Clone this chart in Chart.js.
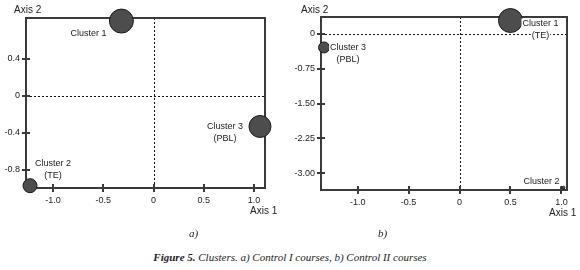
<!DOCTYPE html>
<html>
<head>
<meta charset="utf-8">
<script src="https://cdn.jsdelivr.net/npm/chart.js@4"></script>
<style>
  body { margin: 0; background: #fff; }
  #wrap { position: relative; width: 580px; height: 270px; overflow: hidden; font-family: "Liberation Sans", Arial, sans-serif; color: #222; }
  canvas { position: absolute; top: 0; }
  .t { position: absolute; font-size: 10px; line-height: 10px; white-space: nowrap; }
  .s { position: absolute; font-family: "Liberation Serif", "Times New Roman", serif; font-style: italic; font-size: 11px; line-height: 11px; white-space: nowrap; }
</style>
</head>
<body>
<div id="wrap">
  <canvas id="chartA" width="290" height="220" style="left:0"></canvas>
  <canvas id="chartB" width="290" height="220" style="left:290px"></canvas>
  <div class="t" style="left:14px;top:5px">Axis 2</div>
  <div class="t" style="left:250px;top:206px">Axis 1</div>
  <div class="t" style="left:301px;top:5px">Axis 2</div>
  <div class="t" style="left:549px;top:208px">Axis 1</div>
  <div class="s" style="left:189px;top:228px">a)</div>
  <div class="s" style="left:378px;top:228px">b)</div>
  <div class="s" style="left:0;width:580px;text-align:center;top:252px"><b>Figure 5.</b> Clusters. a) Control I courses, b) Control II courses</div>
</div>
<script>
// a) Control I courses
const namesA = ["Cluster 1", "Cluster 2", "Cluster 3"];
const subA = ["", "(TE)", "(PBL)"];
const axis1A = [-0.32, -1.23, 1.06];
const axis2A = [0.81, -0.97, -0.33];
const sizeA = [12, 7, 11];
const xTicksA = [-1.0, -0.5, 0, 0.5, 1.0];
const yTicksA = [0.4, 0, -0.4, -0.8];

// b) Control II courses
const namesB = ["Cluster 1", "Cluster 2", "Cluster 3"];
const subB = ["(TE)", "", "(PBL)"];
const axis1B = [0.5, 1.02, -1.33];
const axis2B = [0.29, -3.31, -0.29];
const sizeB = [12, 1.5, 5.5];
const xTicksB = [-1.0, -0.5, 0, 0.5, 1.0];
const yTicksB = [0, -0.75, -1.5, -2.25, -3.0];

// label offsets from bubble centre (px)
const offA = [[-33, 12], [23, -22], [-35, 0]];
const offB = [[30, 3], [-22, -6], [24, 0]];

const fontTick = { family: "'Liberation Sans', Arial, sans-serif", size: 9 };

const framePlugin = {
  id: "frame",
  beforeDatasetsDraw(chart) {
    const { ctx, chartArea: a, scales: { x, y } } = chart;
    const x0 = Math.round(x.getPixelForValue(0)) + 0.5;
    const y0 = Math.round(y.getPixelForValue(0)) + 0.5;
    ctx.save();
    ctx.strokeStyle = "#111";
    ctx.lineWidth = 1;
    ctx.setLineDash([2, 2]);
    ctx.beginPath();
    ctx.moveTo(x0, a.top); ctx.lineTo(x0, a.bottom);
    ctx.moveTo(a.left, y0); ctx.lineTo(a.right, y0);
    ctx.stroke();
    ctx.setLineDash([]);
    ctx.strokeStyle = "#3a3a3a";
    ctx.lineWidth = 2;
    ctx.strokeRect(a.left, a.top, a.right - a.left, a.bottom - a.top);
    ctx.beginPath();
    x.ticks.forEach(t => {
      const px = Math.round(x.getPixelForValue(t.value));
      ctx.moveTo(px, a.bottom - 4); ctx.lineTo(px, a.bottom + 4);
    });
    y.ticks.forEach(t => {
      const py = Math.round(y.getPixelForValue(t.value));
      ctx.moveTo(a.left - 4, py); ctx.lineTo(a.left + 4, py);
    });
    ctx.stroke();
    ctx.restore();
  },
  afterDatasetsDraw(chart) {
    const { ctx } = chart;
    const opts = chart.options.plugins.frame;
    const meta = chart.getDatasetMeta(0);
    ctx.save();
    ctx.font = "9px 'Liberation Sans', Arial, sans-serif";
    ctx.textAlign = "center";
    ctx.textBaseline = "middle";
    meta.data.forEach((el, i) => {
      const cx = el.x + opts.offsets[i][0];
      const cy = el.y + opts.offsets[i][1];
      const lines = [opts.names[i], opts.subs[i]].filter(s => s);
      lines.forEach((s, j) => {
        const w = ctx.measureText(s).width;
        const ly = cy + j * 12;
        ctx.fillStyle = "#fff";
        ctx.fillRect(cx - w / 2 - 1, ly - 5, w + 2, 10);
        ctx.fillStyle = "#222";
        ctx.fillText(s, cx, ly);
      });
    });
    ctx.restore();
  }
};

function makeConfig(xs, ys, rs, names, subs, offsets, xTicks, yTicks, lim, box, yFmt) {
  return {
    type: "bubble",
    data: {
      datasets: [{
        data: xs.map((v, i) => ({ x: v, y: ys[i], r: rs[i] })),
        backgroundColor: "#4d4d4d",
        borderColor: "#1a1a1a",
        borderWidth: 1,
        clip: false
      }]
    },
    options: {
      responsive: false,
      animation: false,
      events: [],
      layout: { padding: box.padding },
      plugins: {
        legend: { display: false },
        tooltip: { enabled: false },
        frame: { names: names, subs: subs, offsets: offsets }
      },
      scales: {
        x: {
          type: "linear", min: lim[0], max: lim[1],
          afterBuildTicks: s => { s.ticks = xTicks.map(v => ({ value: v })); },
          afterFit: s => { s.height = box.xh; },
          grid: { display: false, drawTicks: false, tickLength: 0 }, border: { display: false },
          ticks: { padding: 7, color: "#222", font: fontTick, maxRotation: 0,
                   callback: v => v === 0 ? "0" : v.toFixed(1) }
        },
        y: {
          type: "linear", min: lim[2], max: lim[3],
          afterBuildTicks: s => { s.ticks = yTicks.map(v => ({ value: v })); },
          afterFit: s => { s.width = box.yw; },
          grid: { display: false, drawTicks: false, tickLength: 0 }, border: { display: false },
          ticks: { padding: 6, color: "#222", font: fontTick,
                   callback: v => v === 0 ? "0" : v.toFixed(yFmt) }
        }
      }
    },
    plugins: [framePlugin]
  };
}

const configA = makeConfig(axis1A, axis2A, sizeA, namesA, subA, offA, xTicksA, yTicksA,
  [-1.27, 1.11, -0.995, 0.843], { padding: { top: 18, right: 25, left: 0, bottom: 0 }, xh: 32, yw: 26 }, 1);
const configB = makeConfig(axis1B, axis2B, sizeB, namesB, subB, offB, xTicksB, yTicksB,
  [-1.36, 1.055, -3.36, 0.366], { padding: { top: 17, right: 10, left: 0, bottom: 0 }, xh: 30, yw: 31 }, 2);

new Chart(document.getElementById("chartA"), configA);
new Chart(document.getElementById("chartB"), configB);
</script>
</body>
</html>
